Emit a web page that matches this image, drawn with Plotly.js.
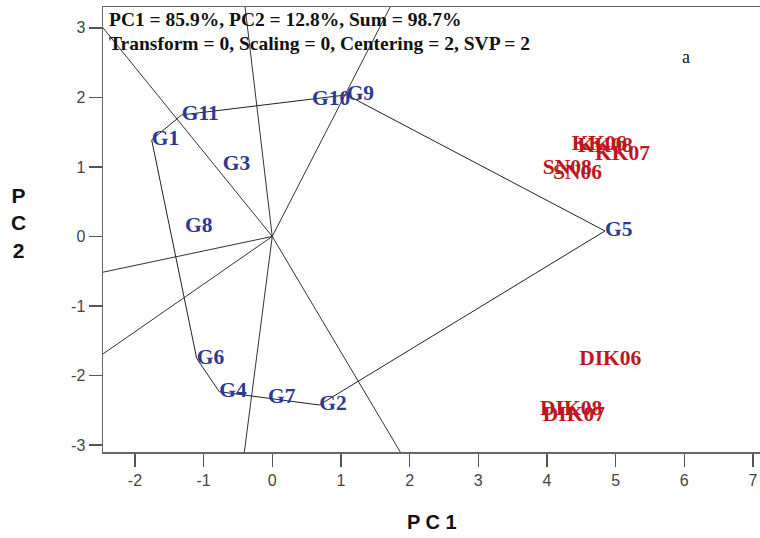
<!DOCTYPE html>
<html>
<head>
<meta charset="utf-8">
<script src="https://cdn.plot.ly/plotly-3.0.1.min.js"></script>
<style>html,body{margin:0;padding:0;background:#fff;}#chart{width:760px;height:538px;}</style>
</head>
<body>
<div id="chart"></div>
<script>
// Genotype scores (PC1, PC2)
const genoNames = ['G1','G2','G3','G4','G5','G6','G7','G8','G9','G10','G11'];
const genoX = [-1.756, 0.684, -0.722, -0.772, 4.845, -1.101, -0.063, -1.271, 1.083, 0.578, -1.319];
const genoY = [1.389, -2.424, 1.029, -2.233, 0.079, -1.753, -2.324, 0.141, 2.036, 1.964, 1.748];

// Environment scores (PC1, PC2)
const envNames = ['KK06','KK08','KK07','SN08','SN06','DIK06','DIK08','DIK07'];
const envX = [4.36, 4.45, 4.70, 3.94, 4.09, 4.47, 3.90, 3.94];
const envY = [1.317, 1.288, 1.173, 0.971, 0.899, -1.777, -2.496, -2.583];

// Convex hull (which-won-where polygon) vertex order
const hullOrder = ['G1','G11','G9','G5','G2','G7','G4','G6','G1'];

const xTicks = [-2,-1,0,1,2,3,4,5,6,7];
const yTicks = [-3,-2,-1,0,1,2,3];

const idx = n => genoNames.indexOf(n);
const hullX = hullOrder.map(n => genoX[idx(n)]);
const hullY = hullOrder.map(n => genoY[idx(n)]);

// Rays from origin perpendicular to each polygon side (G2-G7-G4 treated as one side)
const rayX = [], rayY = [];
const sides = [['G1','G11'],['G11','G9'],['G9','G5'],['G5','G2'],['G2','G4'],['G4','G6'],['G6','G1']];
sides.forEach(([a,b]) => {
  const ax = genoX[idx(a)], ay = genoY[idx(a)];
  const bx = genoX[idx(b)], by = genoY[idx(b)];
  const dx = bx-ax, dy = by-ay;
  const t = -(ax*dx + ay*dy)/(dx*dx+dy*dy);
  const fx = ax + t*dx, fy = ay + t*dy;
  const L = Math.hypot(fx, fy);
  const k = 30 / L;
  rayX.push(0, fx*k, null);
  rayY.push(0, fy*k, null);
});

const blue = 'rgb(43,57,150)';
const red = 'rgb(192,22,32)';
const serif = '"Liberation Serif","Times New Roman",serif';
const labFont = (c) => ({family:serif, size:21.5, color:c, weight:'bold'});

const traces = [
  {x: rayX, y: rayY, mode:'lines', line:{color:'#333', width:1}, hoverinfo:'skip', showlegend:false},
  {x: hullX, y: hullY, mode:'lines', line:{color:'#222', width:1}, hoverinfo:'skip', showlegend:false},
  {x: genoX, y: genoY, text: genoNames, mode:'text', textposition:'middle right',
   textfont: labFont(blue), cliponaxis:false, showlegend:false},
  {x: envX, y: envY, text: envNames, mode:'text', textposition:'middle right',
   textfont: labFont(red), cliponaxis:false, showlegend:false}
];

const tickFont = {family:'"Liberation Sans",Arial,sans-serif', size:16, color:'#444'};
const layout = {
  width:760, height:538,
  margin:{l:103, r:0, t:7, b:86},
  paper_bgcolor:'#fff', plot_bgcolor:'#fff',
  showlegend:false,
  xaxis:{range:[-2.465, 7.103], tickvals:xTicks, ticktext:xTicks.map(String), ticks:'outside', ticklen:13,
    tickcolor:'#555', tickwidth:1.5, showline:true, linecolor:'#666', linewidth:1.5, mirror:true,
    showgrid:false, zeroline:false, tickfont:tickFont},
  yaxis:{range:[-3.10, 3.30], tickvals:yTicks, ticktext:yTicks.map(String), ticks:'outside', ticklen:13,
    tickcolor:'#555', tickwidth:1.5, showline:true, linecolor:'#666', linewidth:1.5,
    showgrid:false, zeroline:false, tickfont:tickFont},
  annotations:[
    {xref:'paper', yref:'paper', x:0.006, y:0.971, xanchor:'left', yanchor:'middle', showarrow:false,
     text:'PC1 = 85.9%, PC2 = 12.8%, Sum = 98.7%',
     font:{family:serif, size:19.5, color:'#111', weight:'bold'}},
    {xref:'paper', yref:'paper', x:0.006, y:0.919, xanchor:'left', yanchor:'middle', showarrow:false,
     text:'Transform = 0, Scaling = 0, Centering = 2, SVP = 2',
     font:{family:serif, size:19.5, color:'#111', weight:'bold'}},
    {xref:'paper', yref:'paper', x:0.887, y:0.888, xanchor:'center', yanchor:'middle', showarrow:false,
     text:'a', font:{family:serif, size:18, color:'#111'}},
    {xref:'paper', yref:'paper', x:0.5, y:-0.157, xanchor:'center', yanchor:'middle', showarrow:false,
     text:'P C 1', font:{family:'"Liberation Sans",Arial,sans-serif', size:20, color:'#111', weight:'bold'}},
    {xref:'paper', yref:'paper', x:-0.129, y:0.515, xanchor:'center', yanchor:'middle', showarrow:false,
     text:'P<br>C<br>2', font:{family:'"Liberation Sans",Arial,sans-serif', size:21, color:'#111', weight:'bold'}}
  ]
};

Plotly.newPlot('chart', traces, layout, {displayModeBar:false, staticPlot:true});
</script>
</body>
</html>
